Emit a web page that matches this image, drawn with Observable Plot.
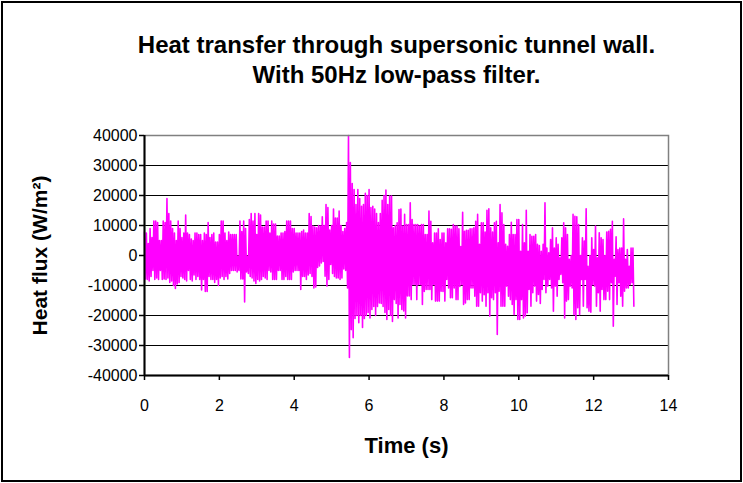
<!DOCTYPE html>
<html><head><meta charset="utf-8">
<script src="https://cdn.jsdelivr.net/npm/d3@7"></script>
<script src="https://cdn.jsdelivr.net/npm/@observablehq/plot@0.6"></script>
<style>
body{margin:0;background:#fff;}
#wrap{position:relative;width:743px;height:483px;overflow:hidden;}
#border{position:absolute;left:1px;top:1px;width:741px;height:481px;border:2px solid #000;box-sizing:border-box;pointer-events:none;}
</style></head><body><div id="wrap"><div id="border"></div></div>
<script>
const titleLines = ["Heat transfer through supersonic tunnel wall.", "With 50Hz low-pass filter."];
const xLabel = "Time (s)";
const yLabel = "Heat flux (W/m²)";
const xTicks = [0, 2, 4, 6, 8, 10, 12, 14];
const yTicks = [-40000, -30000, -20000, -10000, 0, 10000, 20000, 30000, 40000];
const sampleStep = 0.05; // seconds between successive upper/lower swings

// Upper swing of the heat flux signal, kW/m²
const upperKW = [
 7.8,7.5,4,9,6,11.5,11.5,11,5,5,11.5,11,19,14,11.5,9,7.5,5,11.5,9,6,7.5,13.5,7.5,7,5.5,5,7.5,7.5,7,7,5,7.5,7,11,6,7,7.5,4.5,4.5,7,11.5,11.5,7.5,
 5,7.8,7,7,7,7,-0.3,11.5,8,11.5,9,-0.3,12,14,11.5,14,7,14,13.5,9.5,9.5,11.5,11.5,7.5,11.5,10.5,10.5,6.5,6.5,7.5,7.5,8,11.5,11.5,11.5,9,9,7.5,7.5,7.5,8,8.5,7.5,7.5,
 14,13,9.8,9.5,9.2,10,9.8,12.9,10,17,16,8.5,10,15.5,12.5,12.5,14.8,10,8,9,11,40,31,24,22,17,22,19,16.4,17,20.7,20,22,16,16.4,15.5,14,11,14,18.4,20,21.8,17,19.8,
 19.8,9.2,10,10.9,15.3,15.5,9.8,13.7,10.3,10.3,17.6,12,10.3,10.3,10.3,9.8,10.3,10.3,7,7,14.8,11.4,4.2,7.5,7.5,8.9,5.3,7.5,7.5,4.2,8.9,8.9,8.7,10.3,9.8,9.8,8.9,3,14.4,8.1,8.4,8.4,8.9,8.9,
 9.2,11.4,13.7,3.7,10.9,10.9,7.8,15.1,15.6,9.2,7.8,10.9,11.4,4.2,17,14.2,10.3,3.7,3.1,7,11.1,7,7,12,12,1.4,10.3,4.2,15.1,1.4,7,6.4,6.4,7,3.7,3.3,1.4,3.7,17.6,2.5,0.9,5.3,9.2,2.5,
 5.9,3.7,-0.8,5.9,10.9,9.2,7,-1.3,0,13.7,13.1,12.9,10.3,0,5.9,4.8,15.6,-3.6,0,5.9,2,9.8,-0.8,7.6,5.9,5.3,0,7.8,8.1,8.7,11.4,-1.3,6.2,2,2.5,2.5,12.2,-1.3,2,-3.6,2.5,2.5
];
// Lower swing of the heat flux signal, kW/m²
const lowerKW = [
 -7.8,-8,-8.5,-7,-5,-8,-7.5,-8,-5,-8,-7.8,-8,-7.5,-9,-8.5,-10,-11,-9.5,-9,-7,-7.5,-8,-8.5,-5,-8,-8.5,-6.5,-8,-7,-8,-11.5,-8,-12,-12,-7,-8,-8,-9,-8,-10,-7.5,-7,-8,-7,
 -7.8,-6,-5,-5,-5,-5.5,-5,-7.8,-7.8,-15.5,-5.5,-6,-7,-7.5,-8.5,-9.3,-8,-8.5,-8,-7,-7.5,-8,-5,-5.5,-8,-8,-8,-5,-5,-8,-8,-7,-8,-8,-8,-5.5,-5,-5,-5,-11.3,-7,-7,-8,-6.5,
 -6,-7,-10.8,-10.5,-4,-3.5,-2.5,-2,-6.9,-10.2,-8,-3,-6,-7,-7.5,-7.5,-8,-7.5,-4.5,-5,-10.8,-34,-24.7,-27.4,-21,-20,-22.4,-20,-24,-21,-20,-19,-20.8,-18,-17,-20,-17,-15.8,-16,-17,-19,-21.3,-18,-20,
 -22,-14.7,-16,-20.8,-16.3,-18,-18.5,-20.8,-13.5,-13.5,-14.7,-9.7,-9.7,-14.7,-9.7,-9.7,-16.3,-12,-11.3,-11.3,-11.3,-14.7,-9.7,-15.2,-15.2,-15.2,-11.9,-12,-15.2,-8,-10.8,-14.1,-14.1,-10.8,-14.7,-14.7,-10.3,-9.7,-16.3,-15.8,-14.7,-14.7,-10.8,-10.8,
 -13.6,-16.9,-16.9,-12.4,-15.2,-13.1,-16.9,-12.4,-20.2,-14.1,-14.7,-12.4,-26.3,-11.9,-16.9,-16.9,-16.9,-10.2,-13.6,-14.7,-16.3,-19.7,-14.7,-21.3,-21.3,-14.7,-20.8,-20.2,-19.1,-11.3,-16.9,-12.4,-10.2,-15.2,-13,-16,-11.3,-8,-12.4,-10.2,-8,-10.8,-18.6,-10.2,
 -13.6,-8,-6.3,-9.1,-20.8,-15.2,-14.7,-10.2,-10.8,-19.7,-21.3,-17.4,-19.7,-8,-16.9,-8,-17.4,-18.6,-18.9,-9.7,-10.2,-16.9,-12.4,-18.6,-11.3,-14.7,-14.7,-11.9,-14.7,-9.1,-23.6,-6.9,-16.3,-9.1,-13.6,-16.9,-11.9,-10.8,-10.8,-9.7,-9.1,-16.9
];

const signal = [];
upperKW.forEach((u, i) => {
  signal.push({t: i * sampleStep, q: u * 1000});
  signal.push({t: i * sampleStep + sampleStep / 2, q: lowerKW[i] * 1000});
});

const font = "'Liberation Sans', Arial, sans-serif";
const chart = Plot.plot({
  width: 743,
  height: 483,
  marginLeft: 144,
  marginRight: 75,
  marginTop: 135,
  marginBottom: 108,
  style: {fontFamily: font, fontSize: "16px", color: "#000", background: "transparent", overflow: "visible"},
  x: {domain: [0, 14], axis: null},
  y: {domain: [-40000, 40000], axis: null},
  marks: [
    Plot.gridY(yTicks, {stroke: "#000", strokeOpacity: 1, strokeWidth: 1}),
    Plot.line(signal, {x: "t", y: "q", stroke: "#ff00ff", strokeWidth: 1.6}),
    Plot.frame({stroke: "#808080", strokeWidth: 1.5}),
    Plot.ruleX([0], {stroke: "#000", strokeWidth: 2}),
    Plot.ruleY([-40000], {stroke: "#000", strokeWidth: 2}),
    Plot.axisY(yTicks, {tickSize: 5, tickPadding: 2, tickFormat: d => String(d), label: null, stroke: "#000", strokeWidth: 1.5, fontSize: 16}),
    Plot.axisX(xTicks, {tickSize: 5, tickPadding: 19, tickFormat: d => String(d), label: null, stroke: "#000", strokeWidth: 1.5, fontSize: 16}),
    Plot.text([titleLines[0]], {text: d => d, frameAnchor: "top", dx: -10, dy: -90, fontSize: 24, fontWeight: "bold", lineAnchor: "middle"}),
    Plot.text([titleLines[1]], {text: d => d, frameAnchor: "top", dx: -10, dy: -60, fontSize: 24, fontWeight: "bold", lineAnchor: "middle"}),
    Plot.text([xLabel], {text: d => d, frameAnchor: "bottom", dy: 70, fontSize: 22, fontWeight: "bold", lineAnchor: "middle"}),
    Plot.text([yLabel], {text: d => d, frameAnchor: "left", dx: -104, rotate: -90, textAnchor: "middle", fontSize: 21, fontWeight: "bold", lineAnchor: "middle"})
  ]
});
document.getElementById("wrap").prepend(chart);
</script>
</body></html>
